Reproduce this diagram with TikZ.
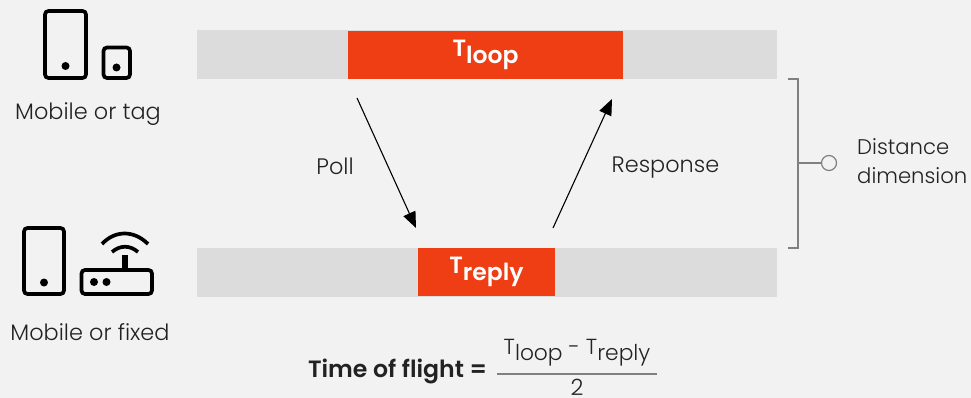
\documentclass[tikz,border=0pt]{standalone}
\usepackage{fontspec}
\usepackage{xcolor}
\usetikzlibrary{arrows.meta,positioning}
\setmainfont{Poppins Light}[BoldFont=Poppins SemiBold]
\definecolor{pagegray}{HTML}{F2F2F2}
\definecolor{bargray}{HTML}{DCDCDC}
\definecolor{slotred}{HTML}{F03E14}
\definecolor{linegray}{HTML}{808080}
\definecolor{textdark}{HTML}{222222}
\newcommand{\lowsub}[1]{\raisebox{-0.28em}{#1}}
\tikzset{
    labeltext/.style={font=\fontsize{22.4}{29}\selectfont, text=textdark, inner sep=0pt, align=left},
    barbox/.style={fill=bargray, inner sep=0pt, minimum width=580pt, minimum height=49pt},
    slotbox/.style={fill=slotred, text=white, inner sep=0pt, minimum height=48pt, font=\fontsize{23.5}{23.5}\selectfont\bfseries},
    icon/.style={draw=black, line width=3.7pt, rounded corners=3.5pt},
    icondot/.style={fill=black, draw=none},
    flow/.style={draw=black, line width=1.1pt, -{Triangle[length=16pt,width=13pt]}},
    bracket/.style={draw=linegray, line width=1.4pt}
}

\begin{document}
\begin{tikzpicture}[x=1pt, y=-1pt]
    \useasboundingbox (0,0) rectangle (971,398);
    \fill[pagegray] (0,0) rectangle (971,398);

    % bars
    \node (topbar) [barbox] at (487,54.5) {};
    \node (bottombar) [barbox] at (487,272) {};
    \node (loop) [slotbox, minimum width=275pt] at (485.5,55) {T\lowsub{loop}};
    \node (reply) [slotbox, minimum width=137pt] at (486.5,272) {T\lowsub{reply}};

    % devices on top
    \draw[icon] (45,11) rectangle (86,78);
    \fill[icondot] (65.5,66) circle (4);
    \draw[icon] (103.5,47.5) rectangle (130,78);
    \fill[icondot] (116.5,67.5) circle (4);
    \node (toplabel) [labeltext] at (88,114) {Mobile or tag};

    % devices below
    \draw[icon] (24,228) rectangle (64,294);
    \fill[icondot] (44,282.5) circle (4);
    \draw[icon] (81.5,270) rectangle (152,294);
    \fill[icondot] (94,282) circle (4);
    \fill[icondot] (106.5,282) circle (4);
    \draw[line width=6pt] (124.5,270) -- (124.5,255);
    \draw[line width=3.7pt] (112,252) .. controls (120,245) and (130,245) .. (138,252);
    \draw[line width=3.7pt] (102,244) .. controls (115,230) and (134,230) .. (148,244);
    \node (bottomlabel) [labeltext] at (90,332) {Mobile or fixed};

    % poll and response
    \coordinate (pollstart) at (357,98);
    \coordinate (pollend) at (416,228);
    \coordinate (responsestart) at (553,228);
    \coordinate (responseend) at (612,99);
    \draw[flow] (pollstart) -- (pollend);
    \draw[flow] (responsestart) -- (responseend);
    \node (poll) [labeltext] at (335,166) {Poll};
    \node (response) [labeltext] at (665.5,167.5) {Response};

    % distance bracket
    \coordinate (brackettop) at (788,79);
    \coordinate (bracketbottom) at (788,248);
    \coordinate (bracketmid) at (798,163);
    \node (dimdot) [circle, draw=linegray, line width=1.2pt, inner sep=0pt, minimum size=15pt] at (829,163) {};
    \draw[bracket] (brackettop) -- (798,79) -- (798,248) -- (bracketbottom);
    \draw[bracket] (bracketmid) -- (dimdot);
    \node (dimension) [labeltext, font=\fontsize{21.2}{29}\selectfont, anchor=west] at (857,161.5) {Distance\\dimension};

    % formula
    \node (flight) [labeltext, font=\fontsize{23.6}{23.6}\selectfont\bfseries] at (397.5,371) {Time of flight =};
    \node (numerator) [labeltext, font=\fontsize{21.8}{29}\selectfont] at (577,353) {T\lowsub{loop} - T\lowsub{reply}};
    \node (denominator) [labeltext] at (577,387.5) {2};
    \coordinate (fractionleft) at (497,374);
    \coordinate (fractionright) at (657,374);
    \draw[draw=linegray, line width=1.2pt] (fractionleft) -- (fractionright);
\end{tikzpicture}
\end{document}
